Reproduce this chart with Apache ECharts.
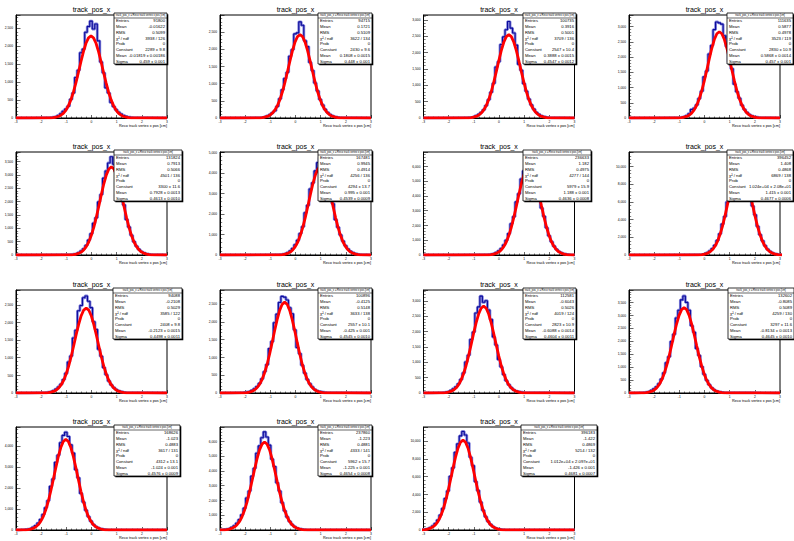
<!DOCTYPE html>
<html><head><meta charset="utf-8">
<script src="https://cdn.jsdelivr.net/npm/echarts@6/dist/echarts.min.js"></script>
<style>html,body{margin:0;padding:0;background:#fff}#c{width:794px;height:541px}</style>
</head><body><div id="c"></div>
<script>
// ---------- data ----------
const panelTitle = 'track_pos_x';
const xAxisTitle = 'Reco track vertex x pos [cm]';
const statsHeader = 'track_pos_x = Reco track vertex x pos [cm]';
const xTicks = [-3, -2, -1, 0, 1, 2, 3];
const binStep = 0.1;
const startX = [-1.72, -1.52, -1.31, -1.11, -0.91, -0.71, -0.51, -0.29, -1.91, -2.13, -2.31, -2.51, -2.72, -2.93, -3.13];

const hist1 = [8,15,25,40,70,120,190,250,330,520,700,1130,1330,1820,1920,2390,2550,2700,2480,2620,2150,1560,1260,840,700,430,320,230,160,110,70,45,25,15,8];
const hist2 = [10,12,20,38,60,95,150,210,340,560,820,1150,1330,1800,1990,2450,2480,2800,2700,2250,2080,1620,1380,1020,790,540,380,250,160,100,60,35,20,12,8];
const hist3 = [12,15,22,40,70,110,170,250,380,560,790,1060,1560,1720,2250,2480,2700,2950,2750,2600,2230,1640,1460,1050,820,580,400,270,170,110,65,40,22,12,8];
const hist4 = [8,14,25,45,80,140,280,320,430,640,880,1350,1540,2100,2380,2900,3150,3120,3080,2700,2350,1830,1620,1110,860,650,420,280,180,110,70,40,25,12,8];
const hist5 = [15,20,30,50,90,150,230,360,560,800,1190,1400,1990,2270,2880,3150,3450,3680,3400,3120,2790,2160,1880,1330,1050,740,500,330,210,130,80,45,25,15,10];
const hist6 = [15,25,40,70,120,200,320,500,720,1050,1380,2060,2420,3220,3520,4100,4500,4750,4550,4150,3650,2880,2500,1720,1350,980,680,450,290,180,110,60,35,20,12];
const hist7 = [20,35,60,100,170,280,440,680,1000,1450,2120,2600,3600,4150,5150,5700,6250,6650,6300,5700,4820,4300,3180,2620,1850,1300,900,600,380,230,140,80,45,25,15];
const hist8 = [30,50,80,150,260,450,720,1100,1650,2400,3500,4350,6000,7000,8800,9800,10700,11100,10650,9700,8250,7300,5550,4550,3250,2300,1600,1050,650,400,230,130,70,40,20];
const hist9 = [10,15,25,40,70,110,170,250,380,560,880,1050,1560,1780,2330,2480,2700,2750,2600,2420,2020,1800,1240,1040,720,520,340,230,150,95,60,35,20,12,8];
const hist10 = [12,18,30,45,75,120,180,270,400,600,800,1250,1450,1980,2220,2550,2720,2700,2620,2400,2230,1780,1280,1110,780,560,380,260,170,100,60,40,25,15,10];
const hist11 = [12,18,30,50,85,140,200,300,440,650,1010,1230,1740,1980,2600,2800,3150,2950,3000,2700,2390,1820,1560,1090,850,600,400,270,170,100,60,40,25,15,10];
const hist12 = [15,22,35,60,100,160,240,360,540,780,1170,1400,1990,2270,2900,3200,3600,3750,3500,3200,2600,2350,1720,1450,1020,720,490,320,200,120,75,45,28,16,10];
const hist13 = [18,28,45,75,130,210,330,500,740,1060,1400,2080,2430,3220,3560,4150,4500,4650,4450,4050,3660,2870,2480,1740,1330,940,640,420,260,160,95,55,30,18,10];
const hist14 = [25,40,65,110,180,290,460,700,1030,1480,2170,2640,3650,4180,5200,5700,6250,6650,6300,5750,4800,4300,3200,2640,1850,1300,880,580,360,220,130,75,40,22,12];
const hist15 = [40,60,95,160,270,450,730,1120,1680,2420,3550,4400,6050,7000,8750,9700,10600,11100,10700,9800,8200,7250,5450,4450,3150,2220,1500,980,620,380,220,120,65,35,20];

const fit1 = [3,5,11,22,42,76,131,215,338,504,719,978,1268,1568,1850,2083,2235,2289,2235,2083,1850,1568,1268,978,719,504,338,215,131,76,42,22,11,5,3];
const fit2 = [3,6,12,24,45,81,139,229,358,536,764,1038,1346,1665,1964,2211,2373,2430,2373,2211,1964,1665,1346,1038,764,536,358,229,139,81,45,24,12,6,3];
const fit3 = [3,6,12,25,47,85,146,240,376,561,800,1088,1411,1745,2059,2317,2487,2547,2487,2317,2059,1745,1411,1088,800,561,376,240,146,85,47,25,12,6,3];
const fit4 = [3,7,14,28,52,94,162,266,417,624,889,1209,1568,1939,2288,2575,2764,2830,2764,2575,2288,1939,1568,1209,889,624,417,266,162,94,52,28,14,7,3];
const fit5 = [4,8,16,32,61,110,189,311,487,727,1037,1409,1828,2261,2668,3002,3223,3300,3223,3002,2668,2261,1828,1409,1037,727,487,311,189,110,61,32,16,8,4];
const fit6 = [5,10,21,42,79,143,246,404,633,946,1349,1834,2379,2942,3471,3907,4194,4294,4194,3907,3471,2942,2379,1834,1349,946,633,404,246,143,79,42,21,10,5];
const fit7 = [7,14,29,59,111,199,343,563,882,1318,1879,2554,3312,4097,4833,5440,5839,5979,5839,5440,4833,4097,3312,2554,1879,1318,882,563,343,199,111,59,29,14,7];
const fit8 = [11,25,50,100,189,341,587,964,1510,2257,3217,4373,5673,7016,8278,9316,10000,10240,10000,9316,8278,7016,5673,4373,3217,2257,1510,964,587,341,189,100,50,25,11];
const fit9 = [3,6,12,24,45,80,138,227,355,531,757,1028,1334,1650,1947,2191,2352,2408,2352,2191,1947,1650,1334,1028,757,531,355,227,138,80,45,24,12,6,3];
const fit10 = [3,6,13,25,47,85,147,241,377,564,803,1092,1417,1752,2067,2326,2497,2557,2497,2326,2067,1752,1417,1092,803,564,377,241,147,85,47,25,13,6,3];
const fit11 = [3,7,14,28,52,94,162,266,416,622,887,1206,1564,1934,2282,2568,2757,2823,2757,2568,2282,1934,1564,1206,887,622,416,266,162,94,52,28,14,7,3];
const fit12 = [4,8,16,32,61,110,189,310,486,727,1036,1408,1827,2259,2665,3000,3220,3297,3220,3000,2665,2259,1827,1408,1036,727,486,310,189,110,61,32,16,8,4];
const fit13 = [5,10,21,42,80,144,247,406,636,950,1355,1842,2389,2955,3486,3923,4211,4312,4211,3923,3486,2955,2389,1842,1355,950,636,406,247,144,80,42,21,10,5];
const fit14 = [7,14,29,58,110,199,342,561,879,1314,1873,2546,3303,4085,4820,5424,5822,5962,5822,5424,4820,4085,3303,2546,1873,1314,879,561,342,199,110,58,29,14,7];
const fit15 = [11,24,50,99,187,337,580,952,1493,2230,3180,4322,5606,6934,8181,9207,9883,10120,9883,9207,8181,6934,5606,4322,3180,2230,1493,952,580,337,187,99,50,24,11];

const yMax = [2870, 3000, 3150, 3380, 3860, 5020, 6980, 11660, 2920, 2900, 3350, 3980, 4900, 6980, 11600];
const yStep = [500, 500, 500, 500, 500, 1000, 1000, 2000, 500, 500, 500, 500, 1000, 1000, 2000];

const statLabels = ['Entries', 'Mean', 'RMS', 'χ² / ndf', 'Prob', 'Constant', 'Mean', 'Sigma'];
const entries = ['91800','94715','100735','111635','131824','167481','236633','396452','94088','100896','112581','132602','168626','237860','396183'];
const meanVals = ['-0.01622','0.1721','0.3916','0.5877','0.7913','0.9945','1.182','1.408','-0.2108','-0.4125','-0.6043','-0.8085','-1.023','-1.223','-1.422'];
const rmsVals = ['0.5099','0.5109','0.5001','0.4978','0.5066','0.4914','0.4975','0.4868','0.5029','0.5148','0.5026','0.5089','0.4883','0.4881','0.4869'];
const chi2Vals = ['3938 / 126','3622 / 134','3709 / 136','3523 / 119','4501 / 136','4256 / 136','4277 / 144','6869 / 138','3585 / 122','3633 / 138','4019 / 124','4259 / 130','3617 / 131','4333 / 141','5214 / 132'];
const probVals = ['0','0','0','0','0','0','0','0','0','0','0','0','0','0','0'];
const constVals = ['2289 ± 9.8','2430 ± 9.6','2547 ± 10.4','2830 ± 10.9','3300 ± 11.6','4294 ± 13.7','5979 ± 15.9','1.024e+04 ± 2.08e+01','2408 ± 9.8','2557 ± 10.1','2823 ± 10.9','3297 ± 11.6','4312 ± 13.1','5962 ± 15.7','1.012e+04 ± 2.097e+01'];
const fitMeanVals = ['-0.01819 ± 0.00186','0.1808 ± 0.0015','0.3888 ± 0.0015','0.5868 ± 0.0014','0.7928 ± 0.0013','0.995 ± 0.001','1.188 ± 0.001','1.415 ± 0.001','-0.2123 ± 0.0015','-0.425 ± 0.001','-0.6088 ± 0.0014','-0.8134 ± 0.0013','-1.024 ± 0.001','-1.225 ± 0.001','-1.426 ± 0.001'];
const sigmaVals = ['0.459 ± 0.001','0.448 ± 0.001','0.4547 ± 0.0012','0.457 ± 0.001','0.4613 ± 0.0010','0.4539 ± 0.0009','0.4636 ± 0.0008','0.4677 ± 0.0006','0.4498 ± 0.0011','0.4545 ± 0.0010','0.4604 ± 0.0011','0.4645 ± 0.0010','0.4576 ± 0.0009','0.4654 ± 0.0008','0.4681 ± 0.0007'];

// ---------- layout ----------
const colLeft = [16, 220, 423.5, 629];
const rowTop = [15, 152, 290, 427];
const frameW = 151, frameH = 103;
const boxLeft = [114,318,523,727, 114,318,523,727, 113,318,523,728, 114,318,521];
const boxW = [53,54,53,66, 68,54,68,66, 69,54,53,66, 66,54,76];
const boxH = 51;
const FONT = 'Liberation Sans, Arial, sans-serif';

const hists = [hist1,hist2,hist3,hist4,hist5,hist6,hist7,hist8,hist9,hist10,hist11,hist12,hist13,hist14,hist15];
const fits = [fit1,fit2,fit3,fit4,fit5,fit6,fit7,fit8,fit9,fit10,fit11,fit12,fit13,fit14,fit15];

function points(start, vals) {
  const xmin = xTicks[0], xmax = xTicks[xTicks.length - 1];
  const pts = [];
  if (start > xmin) pts.push([xmin, 0]);
  vals.forEach((v, i) => pts.push([+(start + i * binStep).toFixed(3), v]));
  const last = start + (vals.length - 1) * binStep;
  if (last < xmax) pts.push([xmax, 0]);
  return pts;
}

const grids = [], xAxes = [], yAxes = [], series = [], elements = [];
function txt(x, y, text, size, align, z) {
  return { type: 'text', x: x, y: y, z: z || 52, silent: true,
    style: { text: text, fontSize: size, fontFamily: FONT, fill: '#000',
      align: align, verticalAlign: 'middle', textAlign: align, textVerticalAlign: 'middle' } };
}

for (let i = 0; i < 15; i++) {
  const r = Math.floor(i / 4), c = i % 4;
  const L = colLeft[c], T = rowTop[r];
  grids.push({ left: L, top: T, width: frameW, height: frameH, show: true,
    borderColor: '#000', borderWidth: 1, backgroundColor: 'transparent' });
  xAxes.push({ gridIndex: i, type: 'value', min: xTicks[0], max: xTicks[xTicks.length - 1], interval: 1,
    axisLine: { onZero: false, lineStyle: { color: '#000', width: 1 } },
    axisTick: { inside: true, length: 3, lineStyle: { color: '#000', width: 0.6 } },
    minorTick: { show: true, splitNumber: 5, length: 1.5, lineStyle: { color: '#000', width: 0.5 } },
    axisLabel: { fontSize: 3.3, color: '#000', margin: 2, fontFamily: FONT },
    splitLine: { show: false } });
  yAxes.push({ gridIndex: i, type: 'value', min: 0, max: yMax[i], interval: yStep[i],
    axisLine: { show: true, onZero: false, lineStyle: { color: '#000', width: 1 } },
    axisTick: { inside: true, length: 4.5, lineStyle: { color: '#000', width: 0.6 } },
    minorTick: { show: true, splitNumber: 5, length: 2.2, lineStyle: { color: '#000', width: 0.5 } },
    axisLabel: { fontSize: 3.3, color: '#000', margin: 3, fontFamily: FONT, showMaxLabel: false },
    splitLine: { show: false } });
  const hp = points(startX[i], hists[i]);
  series.push({ type: 'line', xAxisIndex: i, yAxisIndex: i, data: hp, step: 'middle', symbol: 'none',
    lineStyle: { color: '#8585da', width: 2.8 }, z: 2, silent: true });
  series.push({ type: 'line', xAxisIndex: i, yAxisIndex: i, data: hp, step: 'middle', symbol: 'none',
    lineStyle: { color: '#0a0a9c', width: 1.1 }, z: 3, silent: true });
  series.push({ type: 'line', xAxisIndex: i, yAxisIndex: i, data: points(startX[i], fits[i]), symbol: 'none',
    lineStyle: { color: '#ff0000', width: 2.8 }, z: 4, silent: true });
  elements.push(txt(L + frameW / 2, T - 6, panelTitle, 7, 'center', 60));
  elements.push(txt(L + frameW, T + frameH + 7.5, xAxisTitle, 3.8, 'right', 40));
  // stats box
  const bx = boxLeft[i], by = T - 2, bw = boxW[i];
  elements.push({ type: 'rect', z: 50, silent: true, shape: { x: bx + 1.3, y: by + 1.3, width: bw, height: boxH }, style: { fill: '#000' } });
  elements.push({ type: 'rect', z: 51, silent: true, shape: { x: bx, y: by, width: bw, height: boxH }, style: { fill: '#fff', stroke: '#000', lineWidth: 0.8 } });
  elements.push(txt(bx + bw / 2, by + 2.6, statsHeader, 2.6, 'center'));
  elements.push({ type: 'line', z: 52, silent: true, shape: { x1: bx, y1: by + 5, x2: bx + bw, y2: by + 5 }, style: { stroke: '#000', lineWidth: 0.6 } });
  const vals = [entries[i], meanVals[i], rmsVals[i], chi2Vals[i], probVals[i], constVals[i], fitMeanVals[i], sigmaVals[i]];
  const rowH = (boxH - 5) / 8;
  statLabels.forEach((lab, k) => {
    const yy = by + 5 + rowH * (k + 0.5);
    elements.push(txt(bx + 2, yy, lab, 4.2, 'left'));
    elements.push(txt(bx + bw - 2, yy, vals[k], 4.2, 'right'));
  });
}

const chart = echarts.init(document.getElementById('c'), null, { renderer: 'svg', width: 794, height: 541 });
chart.setOption({
  animation: false,
  backgroundColor: '#fff',
  grid: grids,
  xAxis: xAxes,
  yAxis: yAxes,
  series: series,
  graphic: { elements: elements }
});
</script>
</body></html>
